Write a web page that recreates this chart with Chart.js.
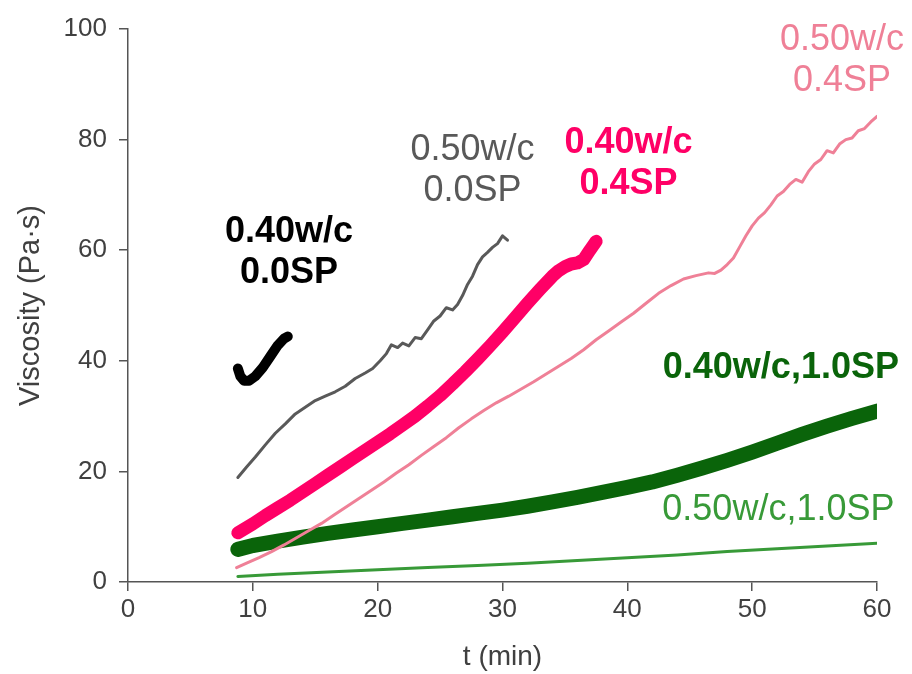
<!DOCTYPE html>
<html>
<head>
<meta charset="utf-8">
<script src="https://cdn.jsdelivr.net/npm/chart.js@4/dist/chart.umd.min.js"></script>
<style>
html,body{margin:0;padding:0;background:#fff;}
#wrap{width:912px;height:674px;position:relative;}
</style>
</head>
<body>
<div id="wrap"><canvas id="c" width="912" height="674"></canvas></div>
<script>
// ---- data ----
const xTicks = [0, 10, 20, 30, 40, 50, 60];
const yTicks = [0, 20, 40, 60, 80, 100];

const t_040_00 = [8.8, 9.0, 9.3, 9.7, 10.2, 10.8, 11.4, 12.0, 12.5, 12.8];
const v_040_00 = [38.6, 37.2, 36.4, 36.4, 37.2, 38.8, 40.8, 42.8, 44.0, 44.4];

const t_050_00 = [8.8, 9.5, 10.2, 11.0, 11.8, 12.6, 13.4, 14.2, 15.0, 15.8, 16.6, 17.4, 18.2, 19.0, 19.6, 20.2, 20.7, 21.1, 21.6, 22.0, 22.5, 23.0, 23.5, 24.0, 24.5, 25.0, 25.5, 26.0, 26.4, 26.8, 27.2, 27.6, 28.0, 28.4, 28.8, 29.2, 29.6, 30.0, 30.4];
const v_050_00 = [18.9, 20.8, 22.6, 24.8, 26.9, 28.6, 30.4, 31.6, 32.8, 33.6, 34.4, 35.4, 36.8, 37.8, 38.6, 40.0, 41.3, 42.9, 42.4, 43.2, 42.7, 44.2, 44.0, 45.6, 47.2, 48.1, 49.6, 49.2, 50.2, 51.8, 53.8, 55.3, 57.4, 58.8, 59.6, 60.5, 61.2, 62.6, 61.8];

const t_040_04 = [8.8, 10, 11, 12, 13, 14, 15, 16, 17, 18, 19, 20, 21, 22, 23, 24, 25, 26, 27, 28, 29, 30, 31, 32, 33, 34, 34.5, 35, 35.5, 36, 36.5, 37, 37.5];
const v_040_04 = [8.9, 10.5, 12.0, 13.4, 14.8, 16.3, 17.8, 19.3, 20.8, 22.3, 23.8, 25.3, 26.8, 28.4, 30.0, 31.8, 33.7, 35.8, 38.0, 40.3, 42.7, 45.2, 47.8, 50.4, 52.9, 55.3, 56.3, 57.0, 57.5, 57.7, 58.3, 60.0, 61.6];

const t_050_04 = [8.7, 9.5, 10.5, 11.5, 12.5, 13.5, 14.5, 15.5, 16.5, 17.5, 18.5, 19.5, 20.5, 21.5, 22.5, 23.5, 24.5, 25.5, 26.5, 27.5, 28.5, 29.5, 30.5, 31.5, 32.5, 33.5, 34.5, 35.5, 36.5, 37.5, 38.5, 39.5, 40.5, 41.5, 42.5, 43.5, 44.5, 45.5, 46.5, 47.0, 47.5, 48.0, 48.5, 49.0, 49.5, 50.0, 50.5, 51.0, 51.5, 52.0, 52.5, 53.0, 53.5, 54.0, 54.5, 55.0, 55.5, 56.0, 56.5, 57.0, 57.5, 58.0, 58.5, 59.0, 59.5, 60.0];
const v_050_04 = [2.6, 3.4, 4.4, 5.5, 6.7, 8.0, 9.3, 10.6, 12.1, 13.6, 15.1, 16.6, 18.1, 19.7, 21.2, 22.9, 24.5, 26.1, 27.9, 29.5, 31.0, 32.4, 33.6, 34.9, 36.2, 37.6, 39.0, 40.4, 42.0, 43.8, 45.4, 47.0, 48.6, 50.4, 52.2, 53.6, 54.8, 55.4, 55.9, 55.8, 56.4, 57.4, 58.6, 60.6, 62.6, 64.4, 65.8, 66.8, 68.2, 69.8, 70.6, 71.9, 72.8, 72.3, 74.2, 75.6, 76.4, 78.0, 77.6, 79.2, 80.0, 80.3, 81.6, 82.0, 83.2, 84.2];

const t_040_10 = [8.8, 10, 12, 14, 16, 18, 20, 22, 24, 26, 28, 30, 32, 34, 36, 38, 40, 42, 44, 46, 48, 50, 52, 54, 56, 58, 60];
const v_040_10 = [5.9, 6.6, 7.4, 8.1, 8.8, 9.4, 10.0, 10.6, 11.2, 11.8, 12.4, 13.0, 13.7, 14.5, 15.3, 16.2, 17.1, 18.1, 19.3, 20.6, 22.0, 23.5, 25.1, 26.7, 28.2, 29.6, 30.9];

const t_050_10 = [8.8, 12, 16, 20, 24, 28, 32, 36, 40, 44, 48, 52, 56, 60];
const v_050_10 = [1.0, 1.4, 1.8, 2.2, 2.6, 3.0, 3.4, 3.9, 4.4, 4.9, 5.5, 6.0, 6.5, 7.0];

// curve labels, anchored in data units (t, viscosity)
const labelText = [["0.40w/c", "0.0SP"], ["0.50w/c", "0.0SP"], ["0.40w/c", "0.4SP"], ["0.50w/c", "0.4SP"], ["0.40w/c,1.0SP"], ["0.50w/c,1.0SP"]];
const labelT = [12.9, 27.6, 40.1, 57.2, 52.3, 52.1];
const labelV = [63.3, 78.1, 79.4, 98.0, 38.7, 13.0];

// ---- styling ----
const colors = ["#000000", "#595959", "#ff0066", "#ef8097", "#0a640a", "#389a38"];
const widths = [10, 3, 13, 3, 15, 3];
const bold = [true, false, true, false, true, false];

function pts(t, v) { return t.map((x, i) => ({x: x, y: v[i]})); }
const series = [[t_040_00, v_040_00], [t_050_00, v_050_00], [t_040_04, v_040_04], [t_050_04, v_050_04], [t_040_10, v_040_10], [t_050_10, v_050_10]];

const FONT = "'Liberation Sans', Arial, sans-serif";
const axisColor = "#555555";

const labelPlugin = {
  id: 'curveLabels',
  afterDatasetsDraw(chart) {
    const ctx = chart.ctx, xs = chart.scales.x, ys = chart.scales.y;
    ctx.save();
    ctx.textAlign = 'center';
    ctx.textBaseline = 'middle';
    labelText.forEach((lines, i) => {
      ctx.font = (bold[i] ? 'bold ' : '') + '36px ' + FONT;
      ctx.fillStyle = colors[i];
      const cx = xs.getPixelForValue(labelT[i]);
      const cy = ys.getPixelForValue(labelV[i]);
      lines.forEach((s, k) => ctx.fillText(s, cx, cy + k * 41));
    });
    ctx.restore();
  }
};

new Chart(document.getElementById('c'), {
  type: 'line',
  data: {
    datasets: series.map((s, i) => ({
      data: pts(s[0], s[1]),
      borderColor: colors[i],
      backgroundColor: colors[i],
      borderWidth: widths[i],
      borderCapStyle: 'round',
      borderJoinStyle: 'round',
      pointRadius: 0,
      tension: 0,
      fill: false
    }))
  },
  options: {
    responsive: false,
    animation: false,
    events: [],
    layout: {padding: {top: 29, right: 35, left: 0, bottom: 0}},
    plugins: {legend: {display: false}, tooltip: {enabled: false}},
    scales: {
      x: {
        type: 'linear', min: 0, max: 60,
        afterBuildTicks: s => { s.ticks = xTicks.map(v => ({value: v})); },
        afterFit: s => { s.height = 92; },
        grid: {drawOnChartArea: false, drawTicks: true, tickLength: 9, color: axisColor, lineWidth: 1.5},
        border: {color: axisColor, width: 1.5},
        ticks: {color: '#404040', font: {family: FONT, size: 26}, padding: 3, maxRotation: 0},
        title: {display: true, text: 't (min)', color: '#404040', font: {family: FONT, size: 28}, padding: {top: 0, bottom: 0}}
      },
      y: {
        type: 'linear', min: 0, max: 100,
        afterBuildTicks: s => { s.ticks = yTicks.map(v => ({value: v})); },
        afterFit: s => { s.width = 128; },
        grid: {drawOnChartArea: false, drawTicks: true, tickLength: 9, color: axisColor, lineWidth: 1.5},
        border: {color: axisColor, width: 1.5},
        ticks: {color: '#404040', font: {family: FONT, size: 26}, padding: 12},
        title: {display: true, text: 'Viscosity (Pa·s)', color: '#404040', font: {family: FONT, size: 29}, padding: {top: 14, bottom: 0}}
      }
    }
  },
  plugins: [labelPlugin]
});
</script>
</body>
</html>
